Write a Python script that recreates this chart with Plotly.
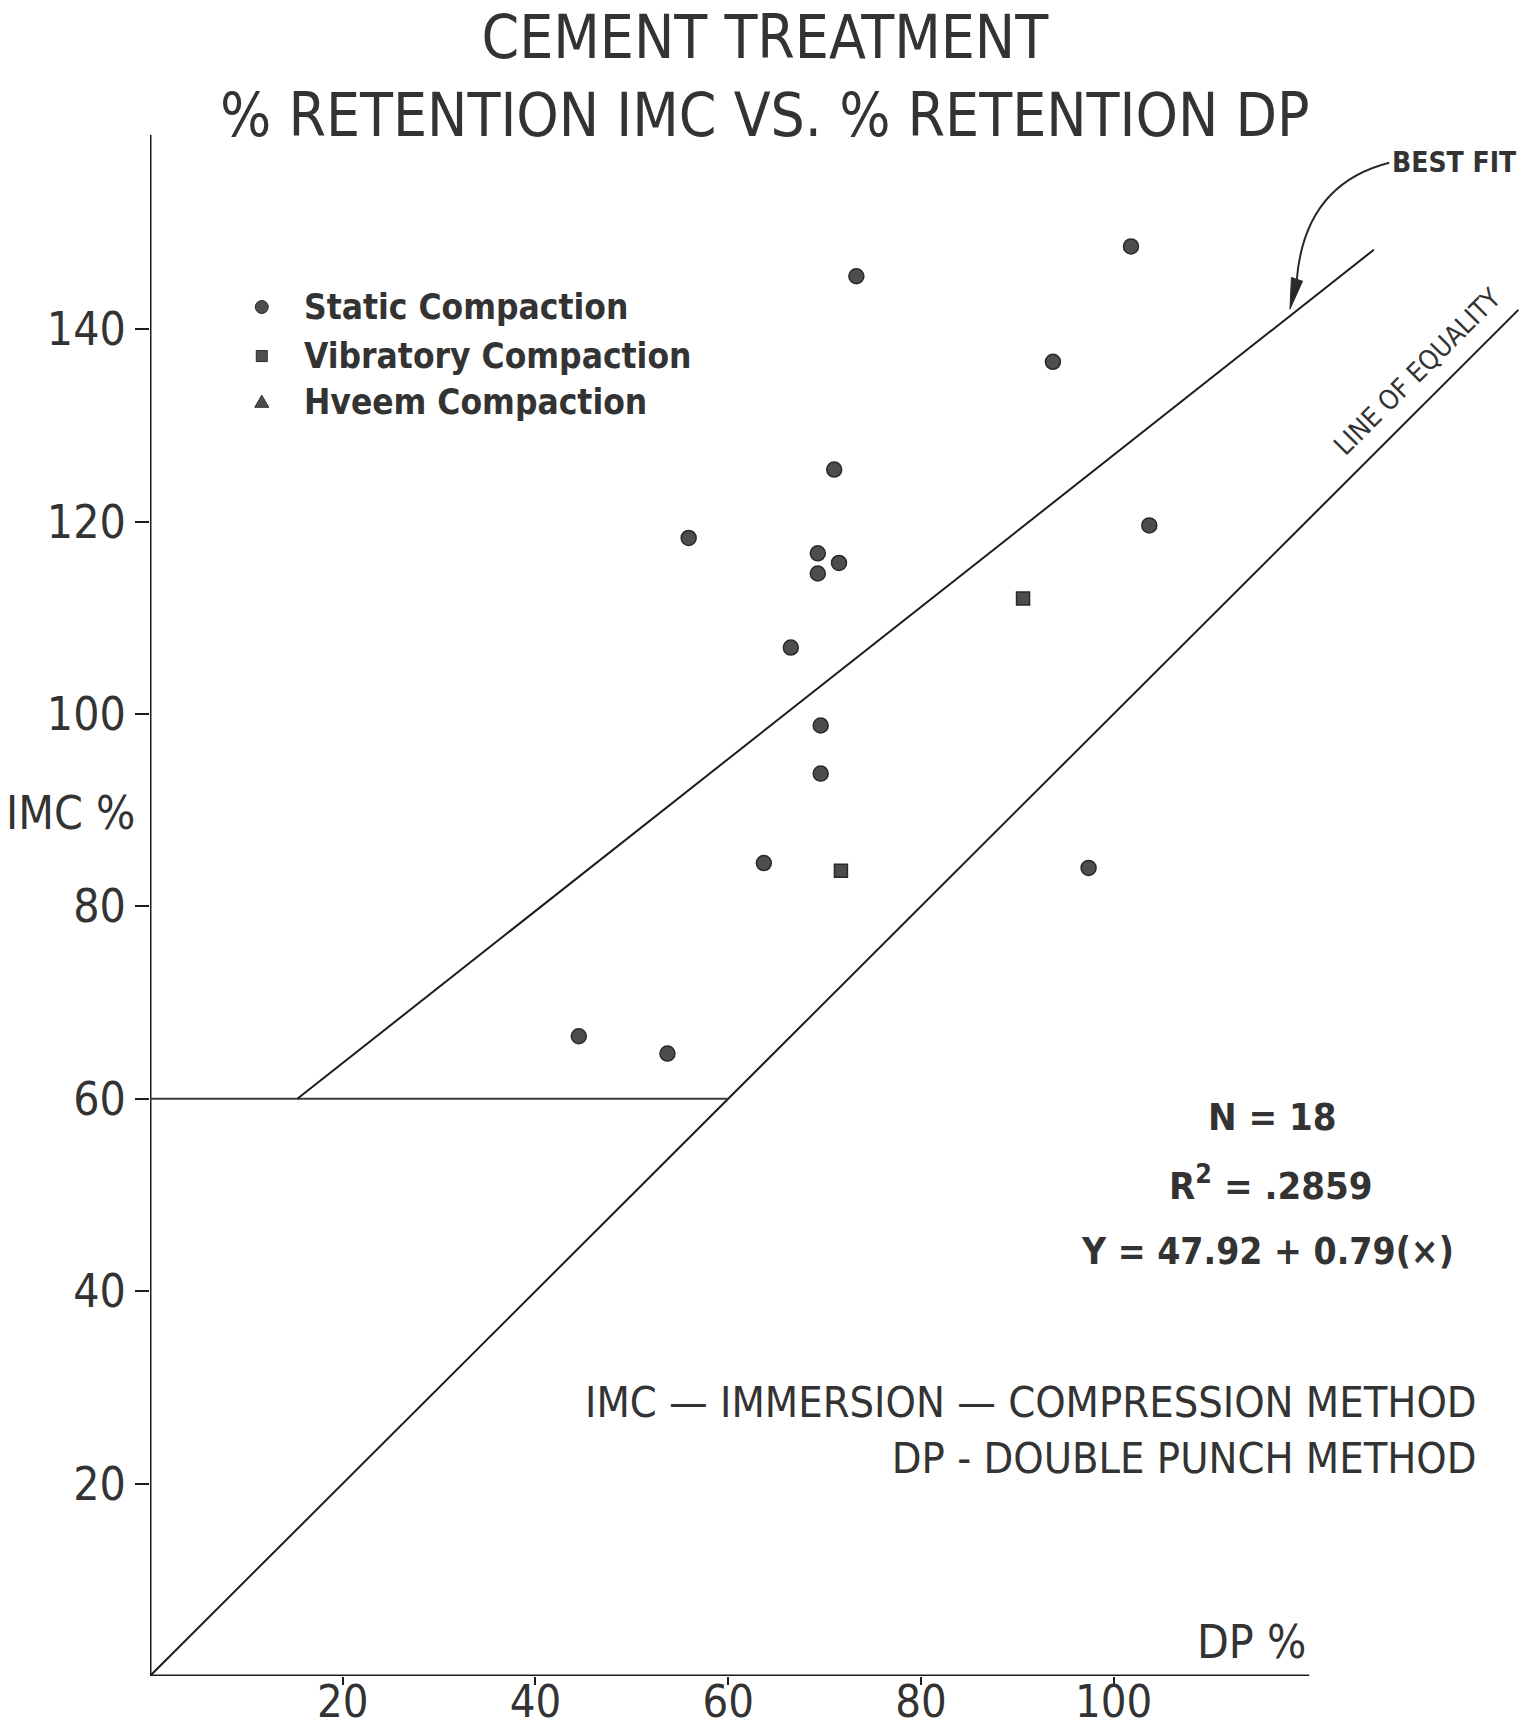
import plotly.graph_objects as go

# ---- data: % retention, IMC vs DP ----
static_dp = [101.8, 73.3, 93.7, 71.0, 55.9, 69.3, 71.5, 69.3, 103.7,
             66.5, 69.6, 69.6, 63.7, 97.4, 44.5, 53.7]
static_imc = [148.6, 145.5, 136.6, 125.4, 118.3, 116.7, 115.7, 114.6, 119.6,
              106.9, 98.8, 93.8, 84.5, 84.0, 66.5, 64.7]
vibratory_dp = [90.6, 71.7]
vibratory_imc = [112.0, 83.7]

# regression summary
fit_intercept = 47.92
fit_slope = 0.79
n_samples = 18
r_squared = ".2859"

x_ticks = [20, 40, 60, 80, 100]
y_ticks = [20, 40, 60, 80, 100, 120, 140]

legend_labels = ["Static Compaction", "Vibratory Compaction", "Hveem Compaction"]

# ---- styling ----
REG = "DejaVu Sans Condensed, Liberation Sans Narrow, Arial Narrow, Liberation Sans, sans-serif"
INK = "#1c1c1c"
TXT = "#333333"
MARK = "#4d4d4d"

X_MAX, Y_MAX = 143.0, 160.7
X_AXIS_END, Y_AXIS_END = 120.3, 160.2
FLOOR = 60            # horizontal reference level
FIT_END = 127.0
EQ_END = 142.0

fig = go.Figure()

def line(xs, ys, width=2, color=INK):
    fig.add_trace(go.Scatter(x=xs, y=ys, mode="lines", cliponaxis=False,
                             line=dict(color=color, width=width),
                             hoverinfo="skip", showlegend=False))

# axes drawn by hand so the x axis stops short of the plot edge
line([0, X_AXIS_END], [0, 0], width=3)
line([0, 0], [0, Y_AXIS_END], width=3)

# line of equality and the 60 % floor
line([0, EQ_END], [0, EQ_END])
line([0, FLOOR], [FLOOR, FLOOR], color="#3a3a3a")

# best-fit line, starting where it meets the floor
fit_x0 = (FLOOR - fit_intercept) / fit_slope
fit_xs = [fit_x0, FIT_END]
fit_ys = [fit_intercept + fit_slope * x for x in fit_xs]
line(fit_xs, fit_ys)

# sample points
fig.add_trace(go.Scatter(x=static_dp, y=static_imc, mode="markers", name=legend_labels[0],
                         marker=dict(symbol="circle", size=15, color=MARK,
                                     line=dict(color="#2a2a2a", width=1.5)),
                         showlegend=False))
fig.add_trace(go.Scatter(x=vibratory_dp, y=vibratory_imc, mode="markers", name=legend_labels[1],
                         marker=dict(symbol="square", size=13, color=MARK,
                                     line=dict(color="#2a2a2a", width=1.5)),
                         showlegend=False))

annotations = []

def note(text, x, y, size, bold=False, xref="x", yref="y", xanchor="center",
         yanchor="middle", angle=0, color=TXT, align="center"):
    annotations.append(dict(text=text, x=x, y=y, xref=xref, yref=yref,
                            xanchor=xanchor, yanchor=yanchor, showarrow=False,
                            textangle=angle, align=align,
                            font=dict(family=REG, size=size, color=color,
                                      weight="bold" if bold else "normal")))

# title
note("CEMENT TREATMENT<br>% RETENTION IMC VS. % RETENTION DP",
     0.4463, 1.0349, 60, xref="paper", yref="paper")

# axis titles
note("IMC %", -0.058, 89.7, 46, xref="paper")
note("DP %", 120.2, 3.5, 46, xanchor="right")

# hand-made key
key_x, text_x = 11.6, 15.8
key_y = [142.3, 137.2, 132.4]
for label, ky in zip(legend_labels, key_y):
    note(label, text_x, ky, 35, bold=True, xanchor="left")

shapes = [
    dict(type="circle", xref="x", yref="y", xsizemode="pixel", ysizemode="pixel",
         xanchor=key_x, yanchor=key_y[0], x0=-6.5, x1=6.5, y0=-6.5, y1=6.5,
         fillcolor=MARK, line=dict(color="#2a2a2a", width=1)),
    dict(type="rect", xref="x", yref="y", xsizemode="pixel", ysizemode="pixel",
         xanchor=key_x, yanchor=key_y[1], x0=-5.5, x1=5.5, y0=-5.5, y1=5.5,
         fillcolor=MARK, line=dict(color="#2a2a2a", width=1)),
    dict(type="path", xref="x", yref="y", xsizemode="pixel", ysizemode="pixel",
         xanchor=key_x, yanchor=key_y[2], path="M -7,-5 L 7,-5 L 0,7 Z",
         fillcolor=MARK, line=dict(color="#2a2a2a", width=1)),
]

# "BEST FIT" call-out with a curved arrow onto the fitted line
note("BEST FIT", 135.4, 157.3, 28, bold=True)
tip_x = 118.3
tip_y = fit_intercept + fit_slope * tip_x + 0.7
head_base_x, head_base_y = tip_x + 0.7, tip_y + 3.0
shapes.append(dict(type="path", xref="x", yref="y",
                   path=(f"M 128.6,157.3 C 123.5,156.0 119.6,152.5 "
                         f"{head_base_x:.2f},{head_base_y:.2f}"),
                   line=dict(color="#2a2a2a", width=2)))
shapes.append(dict(type="path", xref="x", yref="y",
                   path=(f"M {head_base_x - 0.55:.2f},{head_base_y + 0.3:.2f} "
                         f"L {head_base_x + 0.6:.2f},{head_base_y - 0.1:.2f} "
                         f"L {tip_x:.2f},{tip_y:.2f} Z"),
                   fillcolor="#2a2a2a", line=dict(color="#2a2a2a", width=1)))

# label riding along the line of equality
note("LINE OF EQUALITY", 131.5, 135.6, 27, angle=-45)

# regression statistics
note(f"N = {n_samples}", 116.5, 58.1, 38, bold=True)
note(f"R<sup>2</sup> = {r_squared}", 116.3, 51.2, 38, bold=True)
note(f"Y = {fit_intercept:.2f} + {fit_slope:.2f}(×)", 116.0, 44.1, 37, bold=True)

# method key
note("IMC — IMMERSION — COMPRESSION METHOD<br>DP - DOUBLE PUNCH METHOD",
     137.9, 25.6, 43, xanchor="right", align="right")

axis_common = dict(showgrid=False, zeroline=False, showline=False, ticks="outside",
                   tickcolor=INK, tickwidth=2, fixedrange=True, automargin=False)

fig.update_layout(
    width=1534, height=1731,
    margin=dict(l=150, r=6, t=130, b=55),
    paper_bgcolor="white", plot_bgcolor="white",
    showlegend=False,
    annotations=annotations,
    shapes=shapes,
    xaxis=dict(range=[0, X_MAX], tickvals=x_ticks, ticklen=8, ticklabelstandoff=-22,
               tickfont=dict(family=REG, size=45, color=TXT), **axis_common),
    yaxis=dict(range=[0, Y_MAX], tickvals=y_ticks, ticklen=14, ticklabelstandoff=0,
               tickfont=dict(family=REG, size=46, color=TXT), **axis_common),
)

fig.write_html("out.html")
